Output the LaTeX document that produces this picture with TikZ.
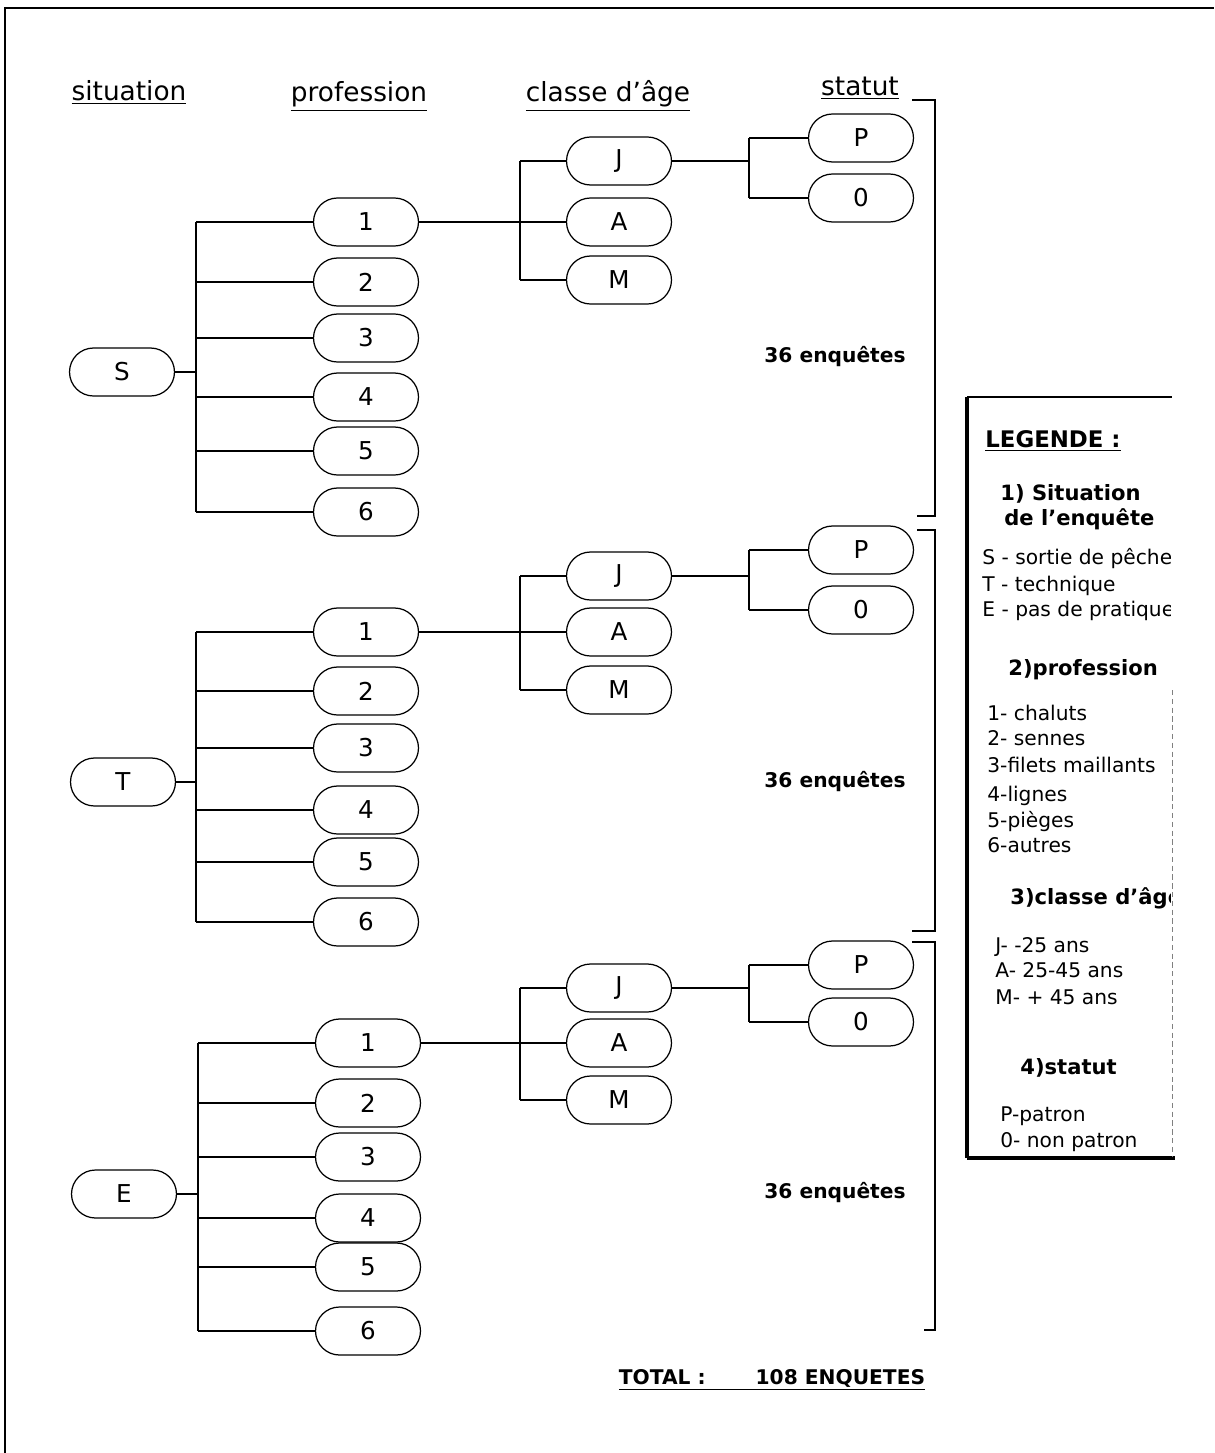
\documentclass[tikz,border=0pt]{standalone}
\usepackage{fontspec}
\setmainfont{DejaVu Sans}
\usetikzlibrary{shapes.misc}
\begin{document}
\begin{tikzpicture}[x=0.02cm,y=-0.02cm,
  pill/.style={draw, rounded rectangle, minimum width=2.1cm, minimum height=0.96cm, inner sep=0pt, line width=0.7pt, font=\fontsize{14}{16}\selectfont},
  link/.style={line width=0.8pt},
  hdr/.style={anchor=base, inner sep=0pt, font=\fontsize{15}{18}\selectfont},
  brk/.style={line width=1.3pt},
  count/.style={inner sep=0pt, font=\bfseries\fontsize{11.5}{13}\selectfont},
  legtxt/.style={anchor=mid west, inner sep=0pt, font=\fontsize{11.5}{13}\selectfont},
  leghd/.style={anchor=mid west, inner sep=0pt, font=\bfseries\fontsize{12}{14}\selectfont},
]
\useasboundingbox (0,0) rectangle (1214,1453);
% outer frame
\draw[line width=1pt] (5,1453) -- (5,8) -- (1214,8);

% headers
\node[hdr] (hsit) at (129,101) {\underline{situation}};
\node[hdr] (hpro) at (359,102) {\underline{profession}};
\node[hdr] (hcla) at (608,102) {\underline{classe d'âge}};
\node[hdr] (hsta) at (860,96) {\underline{statut}};

% ---------------- section S
\node[pill] (S) at (122,372) {S};
\foreach \i/\y in {1/222,2/282,3/338,4/397,5/451,6/512}
  \node[pill] (S\i) at (366,\y) {\i};
\node[pill] (SJ) at (619,161) {J};
\node[pill] (SA) at (619,222) {A};
\node[pill] (SM) at (619,280) {M};
\node[pill] (SP) at (861,138) {P};
\node[pill] (SO) at (861,198) {0};
\coordinate (Str) at (196,372);
\draw[link] (S.east) -- (Str);
\draw[link] (Str |- S1.west) -- (Str |- S6.west);
\foreach \i in {1,...,6} \draw[link] (Str |- S\i.west) -- (S\i.west);
\draw[link] (S1.east) -- (SA.west);
\coordinate (Sag) at (520,222);
\draw[link] (Sag |- SJ.west) -- (Sag |- SM.west);
\draw[link] (Sag |- SJ.west) -- (SJ.west);
\draw[link] (Sag |- SM.west) -- (SM.west);
\coordinate (Sst) at (749,161);
\draw[link] (SJ.east) -- (Sst);
\draw[link] (Sst |- SP.west) -- (Sst |- SO.west);
\draw[link] (Sst |- SP.west) -- (SP.west);
\draw[link] (Sst |- SO.west) -- (SO.west);
\node[count] (Sc) at (835,357) {36 enquêtes};
\draw[brk] (912,100) -- (935,100) -- (935,516) -- (917,516);

% ---------------- section T
\node[pill] (T) at (123,782) {T};
\foreach \i/\y in {1/632,2/691,3/748,4/810,5/862,6/922}
  \node[pill] (T\i) at (366,\y) {\i};
\node[pill] (TJ) at (619,576) {J};
\node[pill] (TA) at (619,632) {A};
\node[pill] (TM) at (619,690) {M};
\node[pill] (TP) at (861,550) {P};
\node[pill] (TO) at (861,610) {0};
\coordinate (Ttr) at (196,782);
\draw[link] (T.east) -- (Ttr);
\draw[link] (Ttr |- T1.west) -- (Ttr |- T6.west);
\foreach \i in {1,...,6} \draw[link] (Ttr |- T\i.west) -- (T\i.west);
\draw[link] (T1.east) -- (TA.west);
\coordinate (Tag) at (520,632);
\draw[link] (Tag |- TJ.west) -- (Tag |- TM.west);
\draw[link] (Tag |- TJ.west) -- (TJ.west);
\draw[link] (Tag |- TM.west) -- (TM.west);
\coordinate (Tst) at (749,576);
\draw[link] (TJ.east) -- (Tst);
\draw[link] (Tst |- TP.west) -- (Tst |- TO.west);
\draw[link] (Tst |- TP.west) -- (TP.west);
\draw[link] (Tst |- TO.west) -- (TO.west);
\node[count] (Tc) at (835,782) {36 enquêtes};
\draw[brk] (917,530) -- (935,530) -- (935,931) -- (912,931);

% ---------------- section E
\node[pill] (E) at (124,1194) {E};
\foreach \i/\y in {1/1043,2/1103,3/1157,4/1218,5/1267,6/1331}
  \node[pill] (E\i) at (368,\y) {\i};
\node[pill] (EJ) at (619,988) {J};
\node[pill] (EA) at (619,1043) {A};
\node[pill] (EM) at (619,1100) {M};
\node[pill] (EP) at (861,965) {P};
\node[pill] (EO) at (861,1022) {0};
\coordinate (Etr) at (198,1194);
\draw[link] (E.east) -- (Etr);
\draw[link] (Etr |- E1.west) -- (Etr |- E6.west);
\foreach \i in {1,...,6} \draw[link] (Etr |- E\i.west) -- (E\i.west);
\draw[link] (E1.east) -- (EA.west);
\coordinate (Eag) at (520,1043);
\draw[link] (Eag |- EJ.west) -- (Eag |- EM.west);
\draw[link] (Eag |- EJ.west) -- (EJ.west);
\draw[link] (Eag |- EM.west) -- (EM.west);
\coordinate (Est) at (749,988);
\draw[link] (EJ.east) -- (Est);
\draw[link] (Est |- EP.west) -- (Est |- EO.west);
\draw[link] (Est |- EP.west) -- (EP.west);
\draw[link] (Est |- EO.west) -- (EO.west);
\node[count] (Ec) at (835,1193) {36 enquêtes};
\draw[brk] (912,942) -- (935,942) -- (935,1330) -- (924,1330);

% total
\node[anchor=base, inner sep=0pt, font=\bfseries\fontsize{11.5}{14}\selectfont] (total) at (772,1384) {\underline{TOTAL :\hspace{1.0cm}108 ENQUETES}};

% ---------------- legend
\draw[line width=2.2pt] (967,1158) -- (967,397);
\draw[line width=1.5pt] (967,397) -- (1172,397);
\draw[line width=1.8pt] (967,1158) -- (1175,1158);
\draw[densely dashed, line width=0.3pt, gray] (1172,690) -- (1172,1156);
\begin{scope}
\clip (960,390) rectangle (1170,1165);
\node[anchor=mid west, inner sep=0pt, font=\bfseries\fontsize{13}{15}\selectfont] (lg) at (985,443) {\underline{LEGENDE :}};
\node[leghd] (l1a) at (1000,496) {1) Situation};
\node[leghd] (l1b) at (1004,521) {de l'enquête};
\node[legtxt] (l1c) at (982,560) {S - sortie de pêche};
\node[legtxt] (l1d) at (982,587) {T - technique};
\node[legtxt] (l1e) at (982,612) {E - pas de pratique};
\node[leghd] (l2) at (1008,671) {2)profession};
\node[legtxt] (l2a) at (987,716) {1- chaluts};
\node[legtxt] (l2b) at (987,741) {2- sennes};
\node[legtxt] (l2c) at (987,768) {3-filets maillants};
\node[legtxt] (l2d) at (987,797) {4-lignes};
\node[legtxt] (l2e) at (987,823) {5-pièges};
\node[legtxt] (l2f) at (987,848) {6-autres};
\node[leghd] (l3) at (1010,900) {3)classe d'âge};
\node[legtxt] (l3a) at (995,948) {J- -25 ans};
\node[legtxt] (l3b) at (995,973) {A- 25-45 ans};
\node[legtxt] (l3c) at (995,1000) {M- + 45 ans};
\node[leghd] (l4) at (1020,1070) {4)statut};
\node[legtxt] (l4a) at (1000,1117) {P-patron};
\node[legtxt] (l4b) at (1000,1143) {0- non patron};
\end{scope}
\end{tikzpicture}
\end{document}
